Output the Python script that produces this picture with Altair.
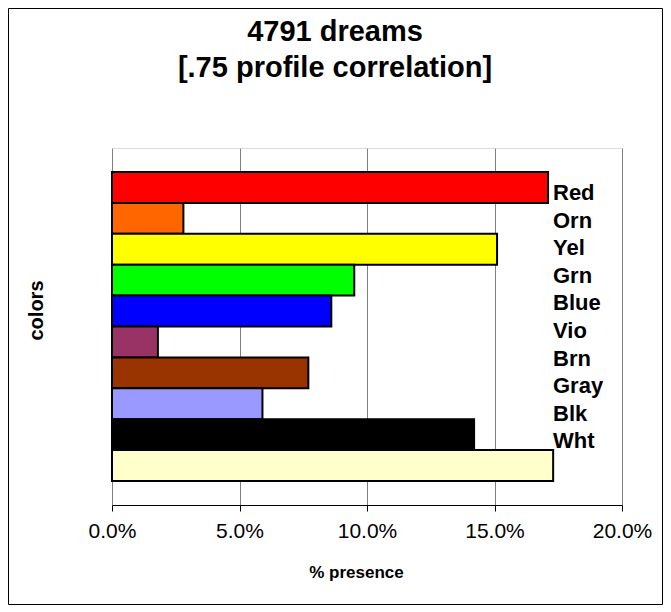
import altair as alt
import pandas as pd

colors = ["Red", "Orn", "Yel", "Grn", "Blue", "Vio", "Brn", "Gray", "Blk", "Wht"]
presence = [17.1, 2.8, 15.1, 9.5, 8.6, 1.8, 7.7, 5.9, 14.2, 17.3]
fills = ["#FF0000", "#FF6600", "#FFFF00", "#00FF00", "#0000FF",
         "#993366", "#993300", "#9999FF", "#000000", "#FFFFCC"]
tick_values = [0, 5, 10, 15, 20]
title_lines = ["4791 dreams", "[.75 profile correlation]"]

df = pd.DataFrame({"color": colors, "presence": presence})
FONT = "Liberation Sans"

bars = alt.Chart(df).mark_bar(stroke="black", strokeWidth=2).encode(
    x=alt.X(
        "presence:Q",
        scale=alt.Scale(domain=[0, 20], nice=False, zero=True),
        axis=alt.Axis(
            values=tick_values,
            labelExpr="format(datum.value, '.1f') + '%'",
            title="% presence",
            grid=True,
            gridColor="#808080",
            gridWidth=1,
            domainColor="black",
            tickColor="black",
            tickSize=6,
            labelFont=FONT,
            labelFontSize=21,
            labelColor="black",
            labelPadding=9,
            labelFlush=False,
            titleFont=FONT,
            titleFontSize=17,
            titleFontWeight="bold",
            titleColor="black",
            titlePadding=23,
            titleX=244,
        ),
    ),
    y=alt.Y(
        "color:N",
        sort=colors,
        scale=alt.Scale(paddingInner=0, paddingOuter=0.78),
        axis=alt.Axis(
            labels=False,
            ticks=False,
            domain=False,
            title="colors",
            titleFont=FONT,
            titleFontSize=20,
            titleFontWeight="bold",
            titleColor="black",
            titlePadding=66,
            titleY=162,
        ),
    ),
    fill=alt.Fill(
        "color:N",
        scale=alt.Scale(domain=colors, range=fills),
        legend=alt.Legend(
            orient="none",
            legendX=419,
            legendY=34,
            title=None,
            symbolSize=0,
            symbolStrokeWidth=0,
            symbolOpacity=0,
            labelOffset=0,
            labelFont=FONT,
            labelFontSize=22,
            labelFontWeight="bold",
            labelColor="black",
            rowPadding=5.6,
        ),
    ),
)

frame = alt.Chart(alt.Data(values=[{}])).mark_rect(
    fillOpacity=0, stroke="black", strokeWidth=1
).encode(
    x=alt.value(-103.5), x2=alt.value(550.5),
    y=alt.value(-139.5), y2=alt.value(456.5),
)

chart = alt.layer(frame, bars).properties(
    width=510,
    height=357,
    autosize=alt.AutoSizeParams(type="none"),
    padding={"left": 104, "top": 140, "right": 41, "bottom": 101},
    title=alt.TitleParams(
        text=title_lines,
        font=FONT,
        fontSize=29,
        fontWeight="bold",
        color="black",
        anchor="middle",
        dx=-32,
        offset=-75,
        lineHeight=36,
    ),
).configure_view(stroke="black", strokeWidth=1).configure(background="white")

chart.save("out.html", embed_options={"renderer": "svg", "actions": False})
